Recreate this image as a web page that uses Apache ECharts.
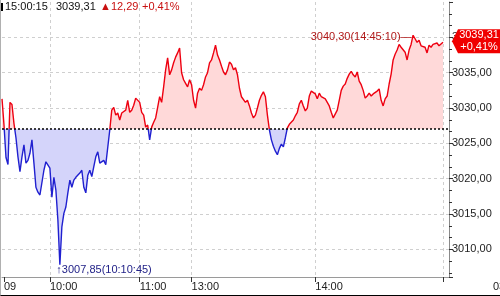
<!DOCTYPE html>
<html>
<head>
<meta charset="utf-8">
<script src="https://cdn.jsdelivr.net/npm/echarts@6/dist/echarts.min.js"></script>
<style>
html,body{margin:0;padding:0;background:#fff;}
#c{width:499px;height:295px;border-left:1px solid #b0b0b0;border-bottom:1px solid #000;}
</style>
</head>
<body>
<div id="c"></div>
<script>
const prevClose = 3027.02;
const lastTime = '15:00:15';
const maxTime = '14:45:10';
const minTime = '10:10:45';
const slotCount = 225;
const tickIdx = [1, 24, 69, 95, 157, 221];
const tickText = ['09', '10:00', '11:00', '13:00', '14:00', ''];
const prices = [
  3031.3, 3027.6, 3023.0, 3022.0, 3030.8, 3030.5, 3027.8, 3025.8, 3023.1, 3021.0,
  3023.1, 3024.8, 3022.2, 3022.6, 3023.6, 3025.5, 3022.2, 3018.8, 3018.1, 3017.7,
  3017.7, 3021.2, 3022.4, 3022.6, 3021.5, 3017.4, 3020.2, 3018.4, 3014.2, 3007.85,
  3013.2, 3015.1, 3016.0, 3018.0, 3019.8, 3018.8, 3019.8, 3020.2, 3020.0, 3020.8,
  3021.2, 3018.8, 3018.0, 3020.5, 3021.2, 3020.3, 3021.7, 3023.1, 3023.8, 3022.2,
  3022.0, 3022.6, 3022.0, 3022.2, 3026.9, 3029.7, 3030.1, 3029.0, 3029.3, 3028.3,
  3029.3, 3029.5, 3029.7, 3031.1, 3029.4, 3029.7, 3030.4, 3031.4, 3031.6, 3030.8,
  3029.4, 3029.0, 3027.3, 3027.6, 3025.5, 3027.3, 3028.0, 3028.6, 3030.1, 3031.6,
  3030.8, 3033.0, 3035.4, 3037.1, 3034.7, 3035.4, 3036.4, 3037.2, 3037.8, 3038.5,
  3035.0, 3034.0, 3033.5, 3033.0, 3034.0, 3033.3, 3031.1, 3030.0, 3032.1, 3032.8,
  3032.5, 3033.3, 3034.4, 3035.0, 3036.4, 3036.8, 3037.8, 3038.9, 3037.5, 3036.8,
  3035.9, 3035.1, 3034.7, 3035.4, 3036.5, 3036.2, 3035.4, 3035.7, 3034.7, 3032.8,
  3031.6, 3031.7, 3030.8, 3031.1, 3030.3, 3029.3, 3028.6, 3029.0, 3030.0, 3031.1,
  3031.8, 3032.3, 3031.6, 3029.0, 3026.9, 3025.5, 3024.6, 3023.9, 3023.4, 3024.3,
  3024.9, 3024.5, 3025.8, 3027.2, 3027.7, 3027.5, 3028.3, 3028.9, 3029.4, 3030.6,
  3031.1, 3030.3, 3029.6, 3030.0, 3031.7, 3032.4, 3032.5, 3032.0, 3031.3, 3032.1,
  3031.6, 3031.8, 3031.3, 3030.8, 3030.3, 3029.4, 3028.6, 3028.5, 3029.7, 3031.1,
  3032.5, 3033.1, 3033.4, 3034.2, 3034.8, 3035.2, 3034.7, 3034.4, 3035.1, 3033.8,
  3033.3, 3032.5, 3031.4, 3031.7, 3032.1, 3031.7, 3032.0, 3032.1, 3032.4, 3032.7,
  3031.1, 3030.3, 3031.3, 3031.7, 3033.4, 3034.8, 3036.8, 3037.6, 3038.2, 3039.0,
  3038.6, 3038.5, 3037.9, 3036.8, 3038.2, 3039.0, 3040.30, 3039.8, 3039.3, 3039.6,
  3038.8, 3039.0, 3038.6, 3037.8, 3038.9, 3038.6, 3039.0, 3038.8, 3039.2, 3038.8,
  3039.0, 3039.31
];

const FONT = 'Liberation Sans';
const fmt = v => v.toFixed(2).replace('.', ',');
const last = prices[prices.length - 1];
const change = last - prevClose;
const pct = change / prevClose * 100;
const categories = Array.from({length: slotCount}, (_, i) => {
  const k = tickIdx.indexOf(i);
  return k >= 0 ? tickText[k] : '';
});
const isTick = i => tickIdx.indexOf(i) >= 0;

const chart = echarts.init(document.getElementById('c'), null, {renderer: 'canvas'});
chart.setOption({
  animation: false,
  textStyle: {fontFamily: FONT},
  grid: {left: 0, right: 51, top: 2, bottom: 18, containLabel: false},
  xAxis: {
    type: 'category',
    data: categories,
    boundaryGap: false,
    axisLine: {show: true, lineStyle: {color: '#9a9a9a', width: 1}},
    axisTick: {show: true, length: 5, interval: (i) => isTick(i), lineStyle: {color: '#333'}},
    axisLabel: {show: true, interval: (i) => isTick(i) && categories[i] !== '', align: 'left',
      margin: 4, fontSize: 11, color: '#222', fontFamily: FONT},
    splitLine: {show: true, interval: (i) => isTick(i) && i !== tickIdx[0],
      lineStyle: {color: '#cfcfcf', type: [3, 3], width: 1}}
  },
  yAxis: {
    type: 'value',
    position: 'right',
    min: 3006.1,
    max: 3045,
    splitNumber: 8,
    scale: true,
    axisLine: {show: true, lineStyle: {color: '#8a8a8a', width: 1}},
    axisTick: {show: true, inside: false, length: 4, lineStyle: {color: '#333'}},
    minorTick: {show: true, splitNumber: 3, length: 3, lineStyle: {color: '#333'}},
    axisLabel: {show: true, margin: 3, fontSize: 11, color: '#222', fontFamily: FONT,
      showMinLabel: false, showMaxLabel: false, formatter: v => fmt(v)},
    splitLine: {show: true, showMinLine: false, showMaxLine: false,
      lineStyle: {color: '#cfcfcf', type: [3, 3], width: 1}}
  },
  visualMap: [
    {show: false, seriesIndex: 0, dimension: 1,
      pieces: [{gte: 2900, lte: prevClose, color: '#d4d4fa'}, {gt: prevClose, lte: 3200, color: '#ffd9d9'}]},
    {show: false, seriesIndex: 1, dimension: 1,
      pieces: [{gte: 2900, lte: prevClose, color: '#2020d0'}, {gt: prevClose, lte: 3200, color: '#ee0010'}]}
  ],
  series: [
    {
      type: 'line', data: prices, showSymbol: false, symbol: 'none', z: 1,
      lineStyle: {width: 0, opacity: 0},
      areaStyle: {origin: prevClose, opacity: 1},
      silent: true
    },
    {
      type: 'line', data: prices, showSymbol: false, symbol: 'none', z: 3, clip: false,
      lineStyle: {width: 1.4},
      silent: true,
      markLine: {
        silent: true, symbol: 'none', animation: false,
        label: {show: false},
        lineStyle: {color: '#000', type: [2, 2], width: 1.5},
        data: [{yAxis: prevClose}]
      },
      markPoint: {
        silent: true, animation: false,
        data: [
          {type: 'max', symbol: 'circle', symbolSize: 1, itemStyle: {color: 'rgba(0,0,0,0)'},
            label: {show: true, position: 'left', distance: 1, offset: [0, 2],
              formatter: p => fmt(p.value) + '(' + maxTime + ')\u2014',
              color: '#b01818', fontSize: 11, fontFamily: FONT}},
          {type: 'min', symbol: 'circle', symbolSize: 1, itemStyle: {color: 'rgba(0,0,0,0)'},
            label: {show: true, position: [-3, 0], align: 'left', verticalAlign: 'top',
              formatter: p => '\u2191' + fmt(p.value) + '(' + minTime + ')',
              color: '#222288', fontSize: 11, fontFamily: FONT}},
          {coord: [prices.length - 1, last], value: last,
            symbol: 'path://M0,12L6,0L48,0L48,24L6,24Z', symbolSize: [48, 24],
            symbolOffset: [33, -1], itemStyle: {color: '#f00000'},
            label: {show: true, position: 'inside', offset: [3, 0],
              formatter: () => fmt(last) + '\n+' + fmt(pct) + '%',
              color: '#fff', fontSize: 11, lineHeight: 12, fontFamily: FONT}}
        ]
      }
    }
  ],
  graphic: [
    {type: 'rect', left: 0, top: 3, shape: {width: 2, height: 8}, style: {fill: '#000'}},
    {type: 'text', left: 4, top: 1, style: {text: lastTime, fill: '#111', font: '11px "Liberation Sans"'}},
    {type: 'text', left: 55, top: 1, style: {text: fmt(last), fill: '#111', font: '11px "Liberation Sans"'}},
    {type: 'text', left: 99, top: 1, style: {text: '\u25B2' + fmt(change), fill: '#c81010', font: '11px "Liberation Sans"'}},
    {type: 'text', left: 141, top: 1, style: {text: '+' + fmt(pct) + '%', fill: '#c81010', font: '11px "Liberation Sans"'}},
    {type: 'text', left: 492, top: 281, style: {text: '03', fill: '#222', font: '11px "Liberation Sans"'}}
  ]
});
</script>
</body>
</html>
